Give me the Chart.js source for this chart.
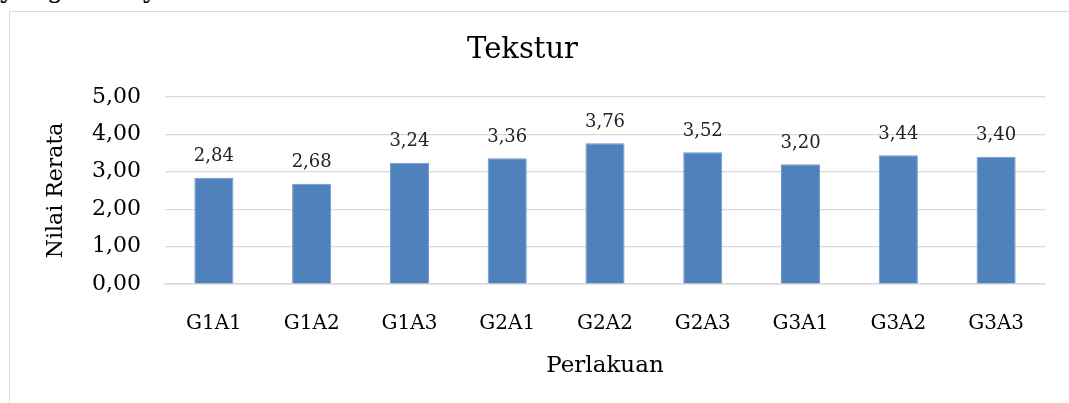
<!DOCTYPE html>
<html>
<head>
<meta charset="utf-8">
<script src="https://cdn.jsdelivr.net/npm/chart.js@4.4.0/dist/chart.umd.min.js"></script>
<style>
  html, body { margin:0; padding:0; background:#fff; overflow:hidden; }
  #wrap { position:relative; width:1069px; height:403px; }
  #frame { position:absolute; left:9px; top:11px; width:1100px; height:420px;
           border-left:1.5px solid #d9d9d9; border-top:1.5px solid #d9d9d9; }
  #cut { position:absolute; left:0; top:-24px; font:26px "DejaVu Serif", serif; line-height:26px;
         color:#000; white-space:nowrap; word-spacing:22px; }
  canvas { position:absolute; left:0; top:0; }
</style>
</head>
<body>
<div id="wrap">
  <div id="cut">yang banyak</div>
  <div id="frame"></div>
  <canvas id="c" width="1069" height="403"></canvas>
</div>
<script>
const categories = ['G1A1','G1A2','G1A3','G2A1','G2A2','G2A3','G3A1','G3A2','G3A3'];
const values = [2.84, 2.68, 3.24, 3.36, 3.76, 3.52, 3.20, 3.44, 3.40];
const yTicks = [0, 1, 2, 3, 4, 5];

const SERIF = '"DejaVu Serif", serif';
const fmt = v => v.toFixed(2).replace('.', ',');

// simple value labels above each bar
const barLabels = {
  id: 'barLabels',
  afterDatasetsDraw(chart){
    const { ctx } = chart;
    const meta = chart.getDatasetMeta(0);
    ctx.save();
    ctx.font = '18px ' + SERIF;
    ctx.fillStyle = '#222';
    ctx.textAlign = 'center';
    ctx.textBaseline = 'middle';
    meta.data.forEach((bar, i) => {
      ctx.fillText(fmt(values[i]), bar.x, bar.y - 21);
    });
    ctx.restore();
  }
};

new Chart(document.getElementById('c'), {
  type: 'bar',
  data: {
    labels: categories,
    datasets: [{
      data: values,
      backgroundColor: '#4F81BD',
      borderColor: '#6d98cc',
      borderWidth: 1,
      barPercentage: 0.4,
      categoryPercentage: 1
    }]
  },
  options: {
    responsive: false,
    animation: false,
    layout: { padding: { top: 16, right: 24, left: 0, bottom: 0 } },
    plugins: {
      legend: { display: false },
      tooltip: { enabled: false },
      title: {
        display: true, text: 'Tekstur', color: '#000',
        font: { family: SERIF, size: 29, weight: 'normal' },
        padding: { top: 17, bottom: 29 }
      }
    },
    scales: {
      x: {
        grid: { display: false },
        border: { display: true, color: '#d9d9d9', width: 1.5 },
        ticks: { color: '#000', padding: 20, font: { family: SERIF, size: 20 } },
        title: { display: true, text: 'Perlakuan', color: '#000',
                 font: { family: SERIF, size: 23 }, padding: { top: 0, bottom: 23 } },
        afterFit(s){ s.height = 119; }
      },
      y: {
        min: 0, max: 5,
        afterBuildTicks(s){ s.ticks = yTicks.map(v => ({ value: v })); },
        grid: { color: '#d9d9d9', lineWidth: 1.2, drawTicks: false },
        border: { display: false },
        ticks: { color: '#000', padding: 24, font: { family: SERIF, size: 22 },
                 callback: v => fmt(v) },
        title: { display: true, text: 'Nilai Rerata', color: '#000',
                 font: { family: SERIF, size: 22 }, padding: { top: 43, bottom: 0 } },
        afterFit(s){ s.width = 165; }
      }
    }
  },
  plugins: [barLabels]
});
</script>
</body>
</html>
